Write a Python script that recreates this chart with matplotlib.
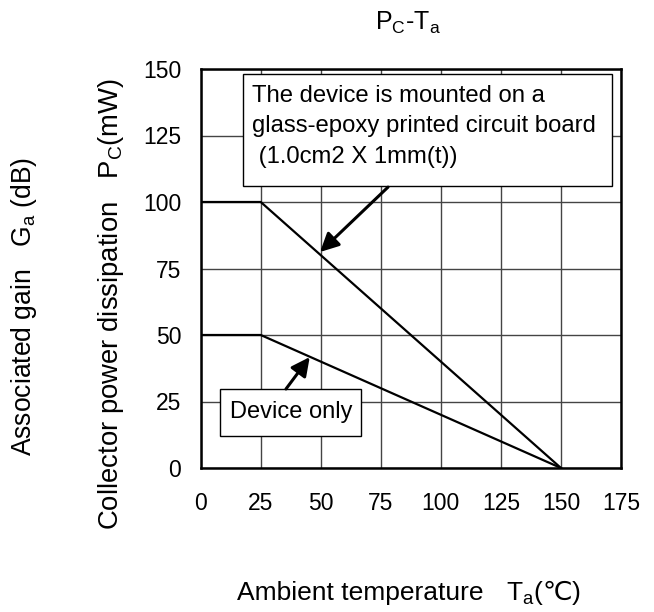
import matplotlib
matplotlib.use("Agg")
import matplotlib.pyplot as plt
from matplotlib.patches import Rectangle

plt.rcParams['font.family'] = ['Liberation Sans', 'DejaVu Sans']
plt.rcParams['mathtext.fontset'] = 'custom'
plt.rcParams['mathtext.rm'] = 'Liberation Sans'
plt.rcParams['mathtext.it'] = 'Liberation Sans'
plt.rcParams['mathtext.sf'] = 'DejaVu Sans'
plt.rcParams['mathtext.fallback'] = 'stixsans'

# data
ta_board = [0, 25, 150]
pc_board = [100, 100, 0]
ta_device = [0, 25, 150]
pc_device = [50, 50, 0]
xticks = [0, 25, 50, 75, 100, 125, 150, 175]
yticks = [0, 25, 50, 75, 100, 125, 150]

W, H = 654, 612
fig = plt.figure(figsize=(W / 100, H / 100), dpi=100)
L, R, T, B = 200.7, 621, 69, 468
ax = fig.add_axes([L / W, 1 - B / H, (R - L) / W, (B - T) / H])

ax.plot(ta_board, pc_board, color='black', lw=1.6, zorder=3)
ax.plot(ta_device, pc_device, color='black', lw=1.6, zorder=3)

ax.set_xlim(0, 175)
ax.set_ylim(0, 150)
ax.set_xticks(xticks)
ax.set_yticks(yticks)
tick_font = dict(size=16.5)
ax.set_xticklabels([str(v) for v in xticks], fontdict=tick_font)
ax.set_yticklabels([str(v) for v in yticks], fontdict=tick_font)
ax.tick_params(axis='x', direction='in', length=0, pad=17)
ax.tick_params(axis='y', direction='in', length=0, pad=14)
ax.grid(True, color='#444444', lw=1.0)
for s in ax.spines.values():
    s.set_linewidth(1.8)
    s.set_zorder(4)

# annotation boxes
ax.add_patch(Rectangle((17.6, 106.0), 171.2 - 17.6, 148.1 - 106.0,
                       fc='white', ec='black', lw=1.0, zorder=5))
ax.text(21.4, 144.0,
        "The device is mounted on a\nglass-epoxy printed circuit board\n (1.0cm2 X 1mm(t))",
        ha='left', va='top', fontsize=17.2, linespacing=1.5, zorder=6)
ax.annotate('', xy=(49.7, 81.2), xytext=(78, 105.6),
            arrowprops=dict(arrowstyle='-|>,head_length=0.8,head_width=0.4',
                            mutation_scale=14, color='black', lw=2.2, shrinkA=0, shrinkB=0),
            zorder=5)

ax.add_patch(Rectangle((8.0, 12.0), 66.7 - 8.0, 29.7 - 12.0,
                       fc='white', ec='black', lw=1.0, zorder=5))
ax.text(12.2, 21.0, "Device only", ha='left', va='center', fontsize=17, zorder=6)
ax.annotate('', xy=(45.4, 41.7), xytext=(35.5, 29.7),
            arrowprops=dict(arrowstyle='-|>,head_length=0.8,head_width=0.4',
                            mutation_scale=14, color='black', lw=2.2, shrinkA=0, shrinkB=0),
            zorder=5)

fig.text(408 / W, 1 - 29.5 / H, r'$\mathregular{P_C}$-$\mathregular{T_a}$',
         ha='center', va='baseline', fontsize=18)
fig.text(111 / W, 1 - 304 / H, r'Collector power dissipation   $\mathregular{P_C}$(mW)',
         ha='center', va='center', rotation=90, fontsize=19.8)
fig.text(24 / W, 1 - 307 / H, r'Associated gain   $\mathregular{G_a}$ (dB)',
         ha='center', va='center', rotation=90, fontsize=19.1)
fig.text(237 / W, 1 - 600 / H, 'Ambient temperature',
         ha='left', va='baseline', fontsize=19)
fig.text(581 / W, 1 - 600 / H, r'$\mathregular{T_a}$($\mathsf{℃}$)',
         ha='right', va='baseline', fontsize=19)

fig.savefig('out.png', dpi=100)
